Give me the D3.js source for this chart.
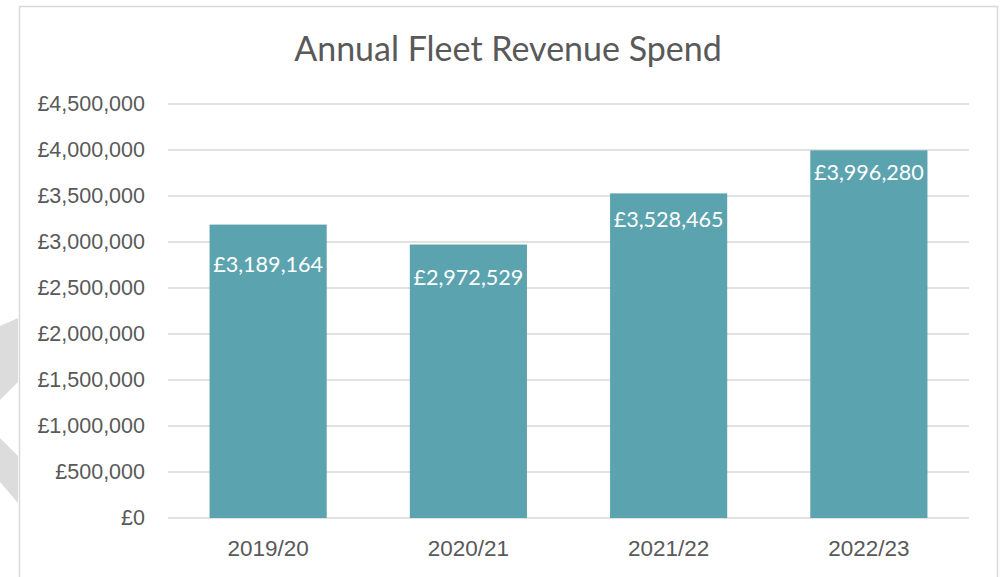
<!DOCTYPE html>
<html lang="en">
<head>
<meta charset="UTF-8" />
<title>Annual Fleet Revenue Spend</title>
<script src="https://cdn.jsdelivr.net/npm/d3@7"></script>
<style>
  * { margin: 0; padding: 0; }
  body { background: #fff; width: 1002px; height: 577px; overflow: hidden; }
  svg { display: block; font-family: Lato, 'Open Sans', sans-serif; }
  .grid line { stroke: #d9d9d9; stroke-width: 1.5px; }
  .axis text { fill: #595959; }
</style>
</head>
<body>
<svg id="chart" width="1002" height="577"></svg>
<script>
// data
const years = ['2019/20', '2020/21', '2021/22', '2022/23'];
const spend = [3189164, 2972529, 3528465, 3996280];
const yTicks = [0, 500000, 1000000, 1500000, 2000000, 2500000, 3000000, 3500000, 4000000, 4500000];

// layout tweak: how far below the bar top each label sits
const labelDrop = [40, 33, 26, 22];

const svg = d3.select('#chart');
const margin = { top: 104, right: 33, bottom: 59, left: 168 };
const width = 1002 - margin.left - margin.right,
  height = 577 - margin.top - margin.bottom;

// decorative grey chevron on the left edge
svg.append('polygon')
  .attr('points', '0,326 18,318 18,382 0,400')
  .attr('fill', '#dcdcdc');
svg.append('polygon')
  .attr('points', '0,438 18,456 18,503 0,482')
  .attr('fill', '#dcdcdc');

// chart area border
svg.append('rect')
  .attr('x', 19.5).attr('y', 6.5)
  .attr('width', 978).attr('height', 600)
  .attr('fill', 'none')
  .attr('stroke', '#d9d9d9')
  .attr('stroke-width', 1.5);

svg.append('text')
  .attr('x', 508).attr('y', 61)
  .attr('text-anchor', 'middle')
  .attr('fill', '#595959')
  .style('font-size', '34px')
  .text('Annual Fleet Revenue Spend');

const g = svg.append('g').attr('transform', `translate(${margin.left},${margin.top})`);

const x = d3.scaleBand().domain(years).range([0, width]).paddingInner(0.415).paddingOuter(0.2075);
const y = d3.scaleLinear().domain([0, 4500000]).range([height, 0]);

const money = v => '£' + d3.format(',')(v);

// gridlines
g.append('g').attr('class', 'grid')
  .selectAll('line').data(yTicks).join('line')
  .attr('x1', 0).attr('x2', width)
  .attr('y1', d => y(d)).attr('y2', d => y(d));

// y axis labels
const yAxis = g.append('g').attr('class', 'axis')
  .call(d3.axisLeft(y).tickValues(yTicks).tickFormat(money).tickSize(0).tickPadding(23));
yAxis.select('.domain').remove();
yAxis.selectAll('text').style('font-size', '21.5px');

// x axis labels
const xAxis = g.append('g').attr('class', 'axis')
  .attr('transform', `translate(0,${height})`)
  .call(d3.axisBottom(x).tickSize(0).tickPadding(22));
xAxis.select('.domain').remove();
xAxis.selectAll('text').style('font-size', '22.5px');

// bars
g.selectAll('.bar').data(spend).join('rect')
  .attr('class', 'bar')
  .attr('x', (d, i) => x(years[i]))
  .attr('y', d => y(d))
  .attr('width', x.bandwidth())
  .attr('height', d => height - y(d))
  .attr('fill', '#5ba3ae');

// value labels
g.selectAll('.val').data(spend).join('text')
  .attr('class', 'val')
  .attr('x', (d, i) => x(years[i]) + x.bandwidth() / 2)
  .attr('y', (d, i) => y(d) + labelDrop[i])
  .attr('dy', '0.35em')
  .attr('text-anchor', 'middle')
  .attr('fill', '#fff')
  .style('font-size', '21.6px')
  .text(money);
</script>
</body>
</html>
